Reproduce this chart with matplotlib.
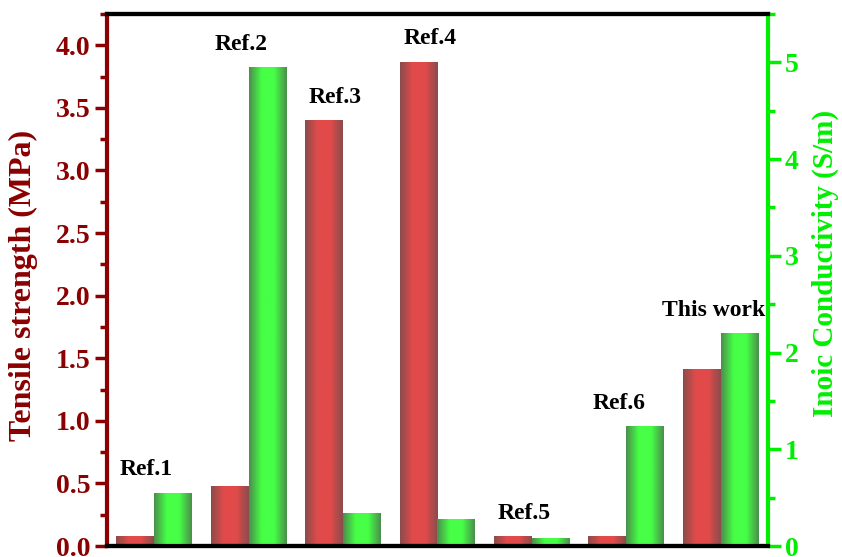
import numpy as np
import matplotlib
matplotlib.use("Agg")
import matplotlib.pyplot as plt
from matplotlib.colors import LinearSegmentedColormap
from matplotlib.ticker import MultipleLocator, AutoMinorLocator

# datos
etiquetas = ["Ref.1", "Ref.2", "Ref.3", "Ref.4", "Ref.5", "Ref.6", "This work"]
tension = [0.08, 0.48, 3.40, 3.87, 0.08, 0.08, 1.41]        # MPa
conductividad = [0.55, 4.95, 0.34, 0.28, 0.08, 1.24, 2.20]  # S/m

ROJO_EJE = "#8b0000"
VERDE_EJE = "#00ee00"

plt.rcParams["font.family"] = ["Liberation Serif", "DejaVu Serif"]
plt.rcParams["font.weight"] = "bold"
plt.rcParams["axes.labelweight"] = "bold"


def degradado(ax, barras, c_borde, c_centro):
    # sombreado tipo cilindro: oscuro en los bordes, claro en el centro
    cmap = LinearSegmentedColormap.from_list("g", [c_borde, c_centro, c_centro, c_borde])
    grad = np.linspace(0, 1, 256).reshape(1, -1)
    for b in barras:
        x, w, h = b.get_x(), b.get_width(), b.get_height()
        im = ax.imshow(grad, cmap=cmap, aspect="auto", extent=[x, x + w, 0, h],
                       zorder=b.get_zorder(), interpolation="bicubic")
        im.set_clip_path(b)
        b.set_facecolor("none")


fig = plt.figure(figsize=(8.42, 5.57), dpi=100)
ax = fig.add_axes([0.127, 0.0197, 0.785, 0.9553])
ax2 = ax.twinx()

x = np.arange(len(etiquetas))
ancho = 0.4
b1 = ax.bar(x - ancho / 2, tension, ancho, color="#dd4848", linewidth=0, zorder=2)
b2 = ax2.bar(x + ancho / 2, conductividad, ancho, color="#44ff44", linewidth=0, zorder=2)
degradado(ax, b1, "#8a4c4c", "#e24a4a")
degradado(ax2, b2, "#4c8c4c", "#46ff46")

ax.set_xlim(-0.5, len(etiquetas) - 0.5)
ax.set_ylim(0, 4.25)
ax2.set_ylim(0, 5.5)

ax.set_xticks([])
ax.yaxis.set_major_locator(MultipleLocator(0.5))
ax.yaxis.set_minor_locator(AutoMinorLocator(2))
ax2.yaxis.set_major_locator(MultipleLocator(1))
ax2.yaxis.set_minor_locator(AutoMinorLocator(2))
ax.yaxis.set_major_formatter(plt.FormatStrFormatter("%.1f"))

ax.tick_params(axis="y", which="major", length=9, width=2.5, color=ROJO_EJE,
               labelcolor=ROJO_EJE, labelsize=20, pad=3)
ax.tick_params(axis="y", which="minor", length=5, width=2.5, color=ROJO_EJE)
ax2.tick_params(axis="y", which="major", length=9, width=2.5, color=VERDE_EJE,
                labelcolor=VERDE_EJE, labelsize=20, pad=3)
ax2.tick_params(axis="y", which="minor", length=5, width=2.5, color=VERDE_EJE)

for a in (ax, ax2):
    for s in a.spines.values():
        s.set_linewidth(3)
    a.spines["top"].set_color("black")
    a.spines["bottom"].set_color("black")
ax.spines["left"].set_color(ROJO_EJE)
ax.spines["right"].set_visible(False)
ax2.spines["left"].set_visible(False)
ax2.spines["right"].set_color(VERDE_EJE)

ax.set_ylabel("Tensile strength (MPa)", fontsize=23, color=ROJO_EJE)
ax.yaxis.set_label_coords(-0.105, 0.49)
ax2.set_ylabel("Inoic Conductivity (S/m)", fontsize=21, color=VERDE_EJE)
ax2.yaxis.set_label_coords(1.066, 0.532)

# etiquetas encima de cada grupo
for i, txt in enumerate(etiquetas):
    tope_izq = ax.transData.transform((0, tension[i]))[1]
    tope_der = ax2.transData.transform((0, conductividad[i]))[1]
    y_pix = max(tope_izq, tope_der)
    y_dat = ax.transData.inverted().transform((0, y_pix))[1]
    ax.annotate(txt, (x[i] - 0.08, y_dat), xytext=(0, 9), textcoords="offset points",
                ha="center", va="bottom", fontsize=17, fontweight="bold", color="black",
                zorder=5, annotation_clip=False)

fig.savefig("out.png", dpi=100)
